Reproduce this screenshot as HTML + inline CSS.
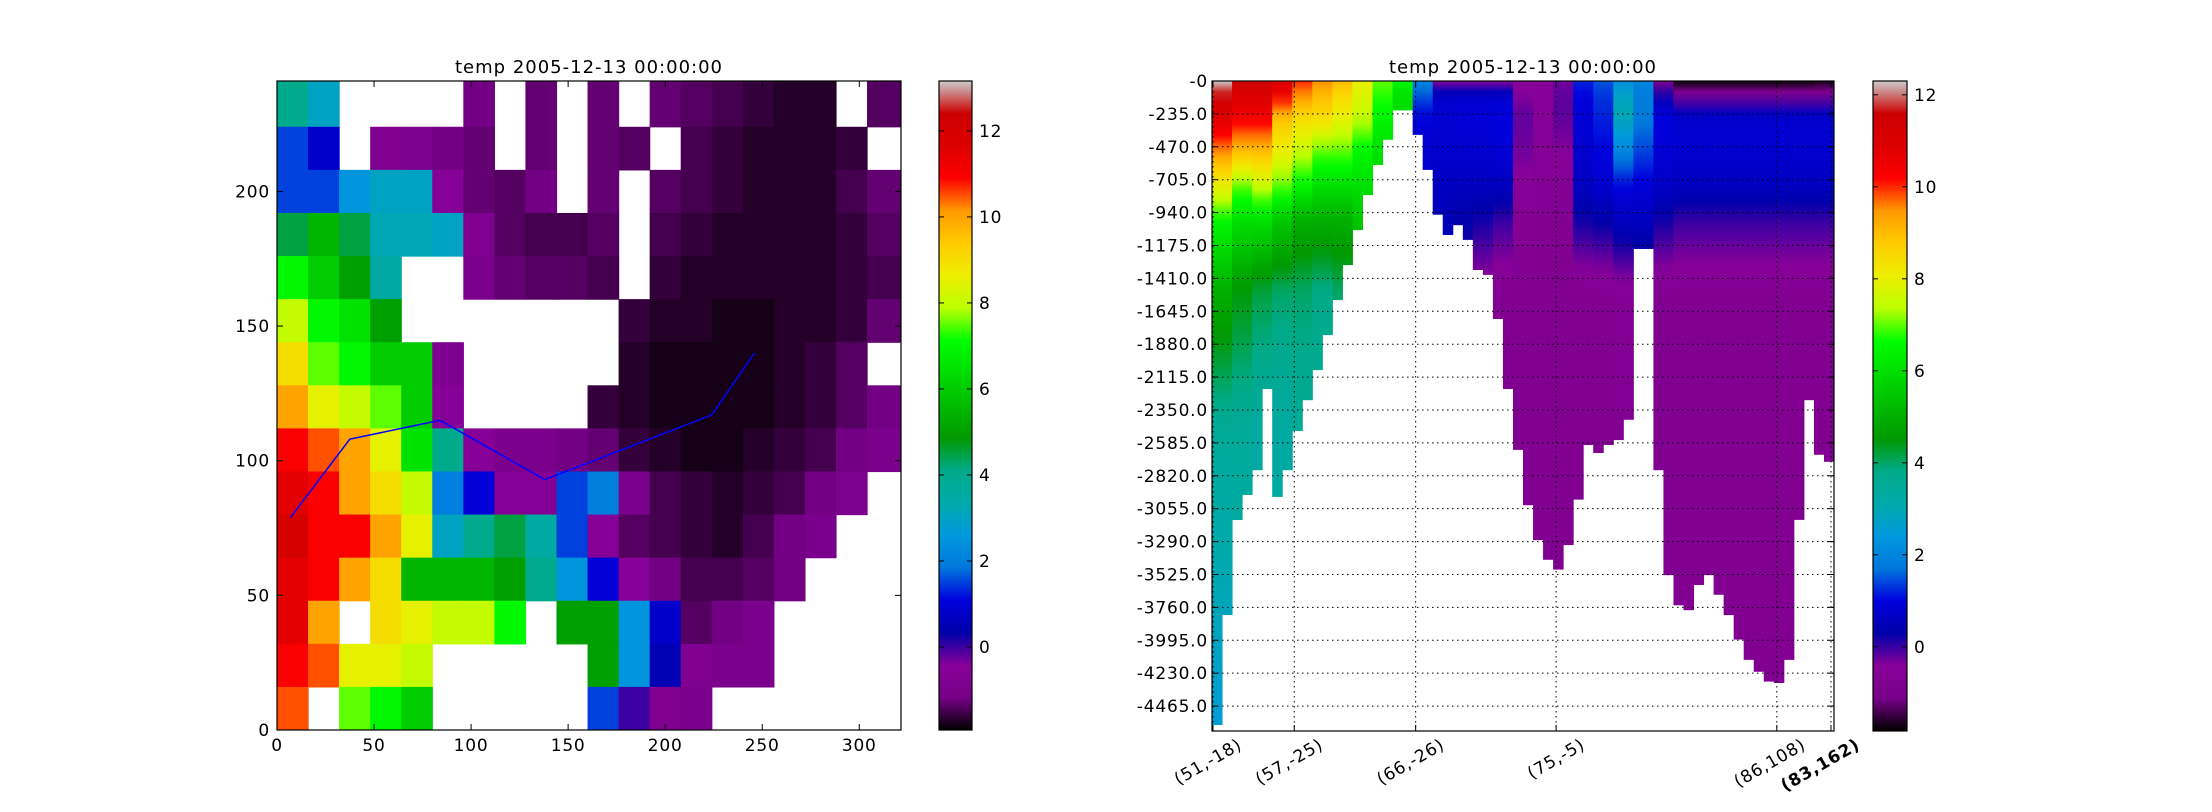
<!DOCTYPE html>
<html><head><meta charset="utf-8"><style>
html,body{margin:0;padding:0;background:#fff;}
svg{display:block;font-family:"DejaVu Sans","Liberation Sans",sans-serif;}
</style></head><body>
<svg id="fig" width="2212" height="812" viewBox="0 0 2212 812" xmlns="http://www.w3.org/2000/svg">
<defs>
<clipPath id="mapClip"><rect x="277" y="81" width="624" height="649"/></clipPath>
<clipPath id="secClip"><rect x="1212" y="81" width="622" height="650"/></clipPath>
</defs>
<g id="mapLayer" clip-path="url(#mapClip)"></g>
<g id="secLayer" clip-path="url(#secClip)"></g>
<g id="axesLayer"></g>
</svg>
<script>
// ---------- colormap (nipy_spectral) ----------
const cmStops=[[0,0,0,0],[0.05,0.4667,0,0.5333],[0.1,0.5333,0,0.6],[0.15,0,0,0.6667],[0.2,0,0,0.8667],[0.25,0,0.4667,0.8667],[0.3,0,0.6,0.8667],[0.35,0,0.6667,0.6667],[0.4,0,0.6667,0.5333],[0.45,0,0.6,0],[0.5,0,0.7333,0],[0.55,0,0.8667,0],[0.6,0,1,0],[0.65,0.7333,1,0],[0.7,0.9333,0.9333,0],[0.75,1,0.8,0],[0.8,1,0.6,0],[0.85,1,0,0],[0.9,0.8667,0,0],[0.95,0.8,0,0],[1,0.8,0.8,0.8]];
function cmap(t){t=Math.max(0,Math.min(1,t));for(let i=1;i<cmStops.length;i++){if(t<=cmStops[i][0]){const a=cmStops[i-1],b=cmStops[i];const f=(t-a[0])/(b[0]-a[0]);const c=[1,2,3].map(k=>Math.round(255*(a[k]+(b[k]-a[k])*f)));return `rgb(${c[0]},${c[1]},${c[2]})`;}}return 'rgb(204,204,204)';}

// ---------- map data ----------
const mapVmin=-1.93, mapVmax=13.16;
const mapXTicks=[0,50,100,150,200,250,300];
const mapYTicks=[0,50,100,150,200];
const mapCbTicks=[0,2,4,6,8,10,12];
const mapCellSize=16;
const n=null;
const mapRows=[
[4,3,n,n,n,n,-1.2,n,-1.3,n,-1.3,n,-1.3,-1.4,-1.5,-1.6,-1.7,-1.7,n,-1.4],
[1.5,0.8,n,-0.8,-0.9,-1.2,-1.3,n,-1.3,n,-1.3,-1.4,n,-1.5,-1.6,-1.7,-1.7,-1.7,-1.6,n],
[1.5,1.5,2.5,3,3,-0.5,-1.3,-1.4,-1.2,n,-1.3,n,-1.4,-1.5,-1.6,-1.7,-1.7,-1.7,-1.5,-1.3],
[4.5,5.5,4.5,3.2,3.2,3,-0.8,-1.4,-1.5,-1.5,-1.4,n,-1.5,-1.6,-1.7,-1.7,-1.7,-1.7,-1.6,-1.4],
[7,6,5,3.5,n,n,-1,-1.3,-1.4,-1.4,-1.5,n,-1.6,-1.7,-1.7,-1.7,-1.7,-1.7,-1.6,-1.5],
[8,7,6.5,5,n,n,n,n,n,n,n,-1.6,-1.7,-1.7,-1.8,-1.8,-1.7,-1.7,-1.6,-1.3],
[9,7.5,7,6,6,-0.8,n,n,n,n,n,-1.7,-1.8,-1.8,-1.8,-1.8,-1.7,-1.6,-1.4,n],
[10,8.5,8,7.5,6,-0.5,n,n,n,n,-1.6,-1.7,-1.8,-1.8,-1.8,-1.8,-1.7,-1.6,-1.4,-1.2],
[11,10.5,10,8.5,6.5,4,-0.5,-1,-1,-1.2,-1.3,-1.6,-1.7,-1.8,-1.8,-1.7,-1.6,-1.5,-1.2,-1],
[11.5,11,10,9,8,2,1,-0.6,-0.6,1.5,2,-1,-1.5,-1.6,-1.7,-1.6,-1.5,-1.2,-0.9,n],
[12,11,11,10,8.5,3,4,4.5,3.5,1.5,-0.5,-1.4,-1.5,-1.6,-1.7,-1.5,-1.2,-1.1,n,n],
[11.5,11,10,9,5.5,5.5,5.5,5,4,2.5,1,-0.5,-1.2,-1.5,-1.5,-1.4,-1.2,n,n,n],
[11.5,10,n,9,8.5,8,8,7,n,5,5,2.5,0.8,-1.4,-1.2,-1,n,n,n,n],
[11,10.5,8.5,8.5,8,n,n,n,n,n,5,2.5,0.5,-0.8,-1,-1,n,n,n,n],
[10.5,n,7.5,7,6,n,n,n,n,n,1.5,0,-0.8,-1,n,n,n,n,n,n]
];
const transectX=[7,37.5,84,138,224,246];
const transectY=[79,108,115,93,117,140];

// ---------- section data ----------
const secVmin=-1.83, secVmax=12.3;
const secDepthTicks=[0,235,470,705,940,1175,1410,1645,1880,2115,2350,2585,2820,3055,3290,3525,3760,3995,4230,4465];
const secPointLabels=["(51,-18)","(57,-25)","(66,-26)","(75,-5)","(86,108)","(83,162)"];
const secPointIndex=[0.1,8.2,20.3,34.3,56.3,61.7];
const secCbTicks=[0,2,4,6,8,10,12];
const secBottom=[4600,3815,3136,2957,2780,2200,2971,2780,2500,2280,2065,1815,1565,1315,1065,815,600,420,210,210,385,635,955,1100,1030,1135,1350,1385,1700,2200,2635,3030,3280,3420,3490,3315,2990,2600,2657,2600,2565,2420,1200,1200,2780,3530,3745,3780,3600,3530,3670,3815,3990,4135,4220,4290,4300,4135,3135,2280,2670,2720];
const secLevels=[0,100,250,500,750,1000,1500,2500,4650];
const secTemps=[
[12.5,11.5,11,9.5,8,6.5,5,3.5,2.5],
[11.5,11,10.5,9,7,6,4.5,3.5,2.8],
[11.5,11,10.5,9,7.5,6,4.2,3.3,3],
[11,10.5,9,8,7,5.5,4,3.3,3],
[10,9.5,8.5,7.5,6.5,5,4,3.5,3.5],
[9.5,9,8.5,7,6,5,3.8,3.5,3.5],
[9,8.5,8,7,6,5,4,3.5,3.5],
[8,7.8,7.5,6.5,6,5.5,4,4,4],
[7,6.8,6.5,6,6,6,6,6,6],
[6.5,6,6,6,6,6,6,6,6],
[2,1.5,1,0.8,0.8,0.8,0.8,0.8,0.8],
[-0.5,0.8,0.8,0.8,0.6,0.5,0.5,0.5,0.5],
[-0.5,0.8,0.9,0.8,0.6,0.3,0,0,0],
[-0.5,0.8,0.9,0.8,0.6,0.2,-0.6,-0.7,-0.7],
[-0.5,0.8,1,0.9,0.6,0,-0.7,-0.7,-0.7],
[-0.5,-0.4,-0.2,-0.3,-0.5,-0.6,-0.7,-0.7,-0.7],
[-0.5,-0.5,-0.5,-0.6,-0.6,-0.7,-0.7,-0.7,-0.7],
[-0.3,-0.2,-0.2,-0.4,-0.6,-0.7,-0.7,-0.7,-0.7],
[1.2,1.0,0.9,0.8,0.6,0.2,-0.7,-0.7,-0.7],
[1.5,1.3,1.2,1.0,0.8,0.3,-0.7,-0.7,-0.7],
[2.2,2.8,3,2.0,1.0,0.6,-0.6,-0.7,-0.7],
[2,1.8,1.8,1.4,0.9,0.6,-0.3,-0.7,-0.7],
[-0.8,0.3,1.0,0.9,0.7,0.2,-0.7,-0.7,-0.7],
[-1.8,-0.6,0.8,0.8,0.6,0.0,-0.7,-0.7,-0.7],
[-1.8,-0.6,0.8,0.8,0.6,0.0,-0.7,-0.7,-0.7],
[-1.8,-0.6,0.8,0.8,0.6,0.0,-0.7,-0.7,-0.7],
[-1.8,-0.6,0.8,0.8,0.6,0.0,-0.7,-0.7,-0.7],
[-1.8,-0.6,0.8,0.8,0.6,0.0,-0.7,-0.7,-0.7],
[-1.8,-0.6,0.8,0.8,0.6,0.0,-0.7,-0.7,-0.7],
[-1.8,-0.6,0.8,0.8,0.6,0.0,-0.7,-0.7,-0.7],
[-1.7,-0.6,0.8,0.8,0.6,0.0,-0.7,-0.7,-0.7]
];

// ---------- geometry ----------
const SVGNS="http://www.w3.org/2000/svg";
const M={x0:277,x1:901,y0:81,y1:730,dmin:0,dmax:321.5,vmin:0,vmax:241};
const mx=v=>M.x0+(v-M.dmin)/(M.dmax-M.dmin)*(M.x1-M.x0);
const my=v=>M.y1-(v-M.vmin)/(M.vmax-M.vmin)*(M.y1-M.y0);
const S={x0:1212,x1:1834,y0:81,y1:731,maxDepth:4643,ncol:62};
const sx=i=>S.x0+i*(S.x1-S.x0)/S.ncol;
const sy=d=>S.y0+d/S.maxDepth*(S.y1-S.y0);
function el(tag,attrs,parent){const e=document.createElementNS(SVGNS,tag);for(const k in attrs)e.setAttribute(k,attrs[k]);parent.appendChild(e);return e;}
const svg=document.getElementById('fig');
const defs=svg.querySelector('defs');
const mapLayer=document.getElementById('mapLayer');
const secLayer=document.getElementById('secLayer');
const axesLayer=document.getElementById('axesLayer');
const mapT=v=>(v-mapVmin)/(mapVmax-mapVmin);
const secT=v=>(v-secVmin)/(secVmax-secVmin);

// ---------- map cells ----------
const nRows=mapRows.length;
mapRows.forEach((row,r)=>{
  const yTop=(nRows-r)*mapCellSize, yBot=(nRows-r-1)*mapCellSize;
  row.forEach((v,c)=>{
    if(v===null)return;
    const xl=c*mapCellSize, xr=(c+1)*mapCellSize+(c===row.length-1?2:0);
    const yt=(r===0?yTop+2:yTop);
    const rc=el('rect',{x:mx(xl),y:my(yt),width:mx(xr)-mx(xl)+0.6,height:my(yBot)-my(yt)+0.6,fill:cmap(mapT(v))},mapLayer);
    
    
  });
});
const tl=el('polyline',{points:transectX.map((x,i)=>mx(x)+','+my(transectY[i])).join(' '),fill:'none',stroke:'#0000ff','stroke-width':1.5},mapLayer);



// ---------- section ----------
function interpTemp(p,d){const lv=secLevels,tv=secTemps[p];for(let k=1;k<lv.length;k++){if(d<=lv[k]){const f=(d-lv[k-1])/(lv[k]-lv[k-1]);return tv[k-1]+(tv[k]-tv[k-1])*f;}}return tv[tv.length-1];}
secTemps.forEach((prof,p)=>{
  const g=el('linearGradient',{id:'sg'+p,gradientUnits:'userSpaceOnUse',x1:0,x2:0,y1:sy(0),y2:sy(S.maxDepth)},defs);
  for(let s=0;s<=60;s++){const d=s/60*S.maxDepth;el('stop',{offset:(s/60).toFixed(4),'stop-color':cmap(secT(interpTemp(p,d)))},g);}
});
secBottom.forEach((depth,i)=>{
  const p=Math.min(secTemps.length-1,Math.floor(i/2));
  const rc=el('rect',{x:sx(i),y:sy(0),width:sx(i+1)-sx(i)+0.5,height:sy(depth)-sy(0),fill:`url(#sg${p})`},secLayer);
  
  
});

// ---------- axes helpers ----------
function txt(x,y,s,attrs,name){const t=el('text',Object.assign({x:x,y:y,'font-size':17,'letter-spacing':'0.8',fill:'#000'},attrs||{}),axesLayer);t.textContent=s;return t;}
function line(x1,y1,x2,y2,attrs,name){const l=el('line',Object.assign({x1,y1,x2,y2,stroke:'#000','stroke-width':1},attrs||{}),axesLayer);return l;}

// map frame & ticks
const mf=el('rect',{x:M.x0,y:M.y0,width:M.x1-M.x0,height:M.y1-M.y0,fill:'none',stroke:'#000','stroke-width':1.2},axesLayer);


mapXTicks.forEach(v=>{const x=mx(v);line(x,M.y1,x,M.y1-6,{},'map-x-tick');line(x,M.y0,x,M.y0+6,{},'map-x-tick');txt(x,M.y1+21,String(v),{'text-anchor':'middle'},'map-x-tick-label');});
mapYTicks.forEach(v=>{const y=my(v);line(M.x0,y,M.x0+6,y,{},'map-y-tick');line(M.x1,y,M.x1-6,y,{},'map-y-tick');txt(M.x0-7,y+6,String(v),{'text-anchor':'end'},'map-y-tick-label');});
txt((M.x0+M.x1)/2,73,'temp 2005-12-13 00:00:00',{'text-anchor':'middle','font-size':18,'letter-spacing':'1'},'map-title');

// colorbars
function colorbar(x0,x1,y0,y1,vmin,vmax,ticks,name){
  const gid='cb'+name;
  const g=el('linearGradient',{id:gid,x1:0,y1:1,x2:0,y2:0},defs);
  for(let s=0;s<=100;s++)el('stop',{offset:(s/100).toFixed(3),'stop-color':cmap(s/100)},g);
  const r=el('rect',{x:x0,y:y0,width:x1-x0,height:y1-y0,fill:`url(#${gid})`,stroke:'#000','stroke-width':1.2},axesLayer);
  
  
  ticks.forEach(v=>{const y=y1-(v-vmin)/(vmax-vmin)*(y1-y0);line(x1-5,y,x1,y,{},name+'-tick');line(x0,y,x0+5,y,{},name+'-tick');txt(x1+7,y+6,String(v),{},name+'-tick-label');});
}
colorbar(939,972,M.y0,M.y1,mapVmin,mapVmax,mapCbTicks,'map-colorbar');
colorbar(1873,1907,S.y0,S.y1,secVmin,secVmax,secCbTicks,'section-colorbar');

// section frame, grid & ticks
secDepthTicks.forEach(d=>{const y=sy(d);line(S.x0,y,S.x1,y,{'stroke-dasharray':'1.5,3.5','stroke-width':1},'section-grid-h');line(S.x0,y,S.x0+6,y,{},'section-y-tick');line(S.x1,y,S.x1-6,y,{},'section-y-tick');txt(S.x0-4,y+6,d===0?'-0':'-'+d.toFixed(1),{'text-anchor':'end'},'section-y-tick-label');});
secPointIndex.forEach((idx,k)=>{const x=sx(idx);line(x,S.y0,x,S.y1,{'stroke-dasharray':'1.5,3.5'},'section-grid-v');line(x,S.y1,x,S.y1-6,{},'section-x-tick');line(x,S.y0,x,S.y0+6,{},'section-x-tick');
  const t=txt(0,0,secPointLabels[k],{'text-anchor':'end',transform:`translate(${x+30},${S.y1+17}) rotate(-30)`},'section-x-tick-label');
  if(k===secPointLabels.length-1)t.setAttribute('font-weight','bold');});
const sf=el('rect',{x:S.x0,y:S.y0,width:S.x1-S.x0,height:S.y1-S.y0,fill:'none',stroke:'#000','stroke-width':1.2},axesLayer);


txt((S.x0+S.x1)/2,73,'temp 2005-12-13 00:00:00',{'text-anchor':'middle','font-size':18,'letter-spacing':'1'},'section-title');
</script>
</body></html>
